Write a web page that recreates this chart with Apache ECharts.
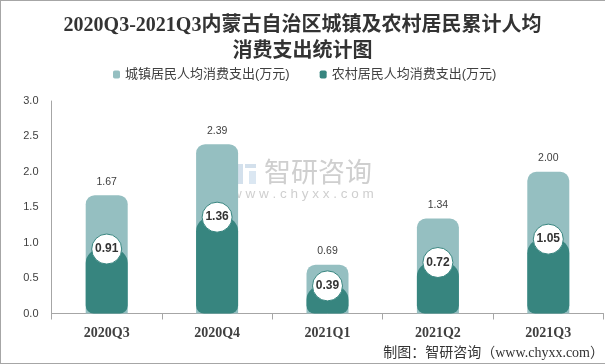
<!DOCTYPE html>
<html>
<head>
<meta charset="utf-8">
<style>
  html, body { margin: 0; padding: 0; background: #fff; }
  #chart { width: 605px; height: 364px; box-sizing: border-box; }
  #frame { position: absolute; left: 0; top: 0; width: 605px; height: 364px; box-sizing: border-box; border: 1px solid #a6a6a6; border-right: 0; pointer-events: none; }
</style>
</head>
<body>
<div id="chart"></div>
<div id="frame"></div>
<script src="https://cdn.jsdelivr.net/npm/echarts@6/dist/echarts.min.js"></script>
<script>
var categories = ["2020Q3", "2020Q4", "2021Q1", "2021Q2", "2021Q3"];
var urbanValues = [1.67, 2.39, 0.69, 1.34, 2.00];
var ruralValues = [0.91, 1.36, 0.39, 0.72, 1.05];
var yTicks = { min: 0, max: 3, interval: 0.5 };

var urbanName = "城镇居民人均消费支出(万元)";
var ruralName = "农村居民人均消费支出(万元)";
var sansFont = "'Liberation Sans','Noto Sans CJK SC',sans-serif";
var serifFont = "'Liberation Serif','Noto Sans CJK SC',serif";

var chart = echarts.init(document.getElementById("chart"));

var option = {
  animation: false,
  title: {
    text: "2020Q3-2021Q3内蒙古自治区城镇及农村居民累计人均\n消费支出统计图",
    left: "center",
    top: 8,
    textStyle: {
      fontFamily: serifFont,
      fontSize: 20,
      fontWeight: "bold",
      color: "#333",
      lineHeight: 26,
    },
  },
  legend: {
    top: 63,
    left: 108,
    itemWidth: 7,
    itemHeight: 8,
    itemGap: 30,
    icon: "roundRect",
    data: [urbanName, ruralName],
    textStyle: { fontFamily: sansFont, fontSize: 13, color: "#404040" },
  },
  grid: { left: 51.5, right: 1.5, top: 101, bottom: 50.5 },
  xAxis: {
    type: "category",
    data: categories,
    axisLine: { lineStyle: { color: "#a6a6a6" } },
    axisTick: { show: true, length: 6, lineStyle: { color: "#a6a6a6" } },
    axisLabel: {
      fontFamily: serifFont,
      fontSize: 14,
      fontWeight: "bold",
      color: "#404040",
      margin: 13,
    },
  },
  yAxis: {
    type: "value",
    min: yTicks.min,
    max: yTicks.max,
    interval: yTicks.interval,
    splitLine: { show: false },
    axisLine: { show: true, lineStyle: { color: "#a6a6a6" } },
    axisTick: { show: false },
    axisLabel: {
      fontFamily: sansFont,
      fontSize: 11,
      color: "#404040",
      margin: 13,
      formatter: function (v) {
        return v.toFixed(1);
      },
    },
  },
  series: [
    {
      name: urbanName,
      type: "bar",
      data: urbanValues,
      barWidth: 42,
      barGap: "-100%",
      itemStyle: { color: "#95bfc1", borderRadius: [9, 9, 0, 0] },
      label: {
        show: true,
        position: "top",
        distance: 8,
        fontFamily: sansFont,
        fontSize: 10.5,
        color: "#404040",
        formatter: function (p) {
          return p.value.toFixed(2);
        },
      },
      z: 2,
    },
    {
      name: ruralName,
      type: "bar",
      data: ruralValues,
      barWidth: 42,
      itemStyle: { color: "#37857f", borderRadius: [14, 14, 8, 8] },
      z: 3,
    },
    {
      // white circles sitting on top of the rural bars
      name: "ruralLabel",
      type: "scatter",
      data: ruralValues,
      symbol: "circle",
      symbolSize: 30,
      itemStyle: { color: "#fff", borderColor: "#37857f", borderWidth: 1, opacity: 1 },
      label: {
        show: true,
        position: "inside",
        fontFamily: sansFont,
        fontSize: 12,
        fontWeight: "bold",
        color: "#333",
        formatter: function (p) {
          return p.value.toFixed(2);
        },
      },
      z: 4,
    },
  ],
  graphic: [
    // watermark
    {
      type: "group",
      left: 232,
      top: 161,
      z: 1,
      children: [
        { type: "rect", shape: { x: 0, y: 3, width: 11, height: 20 }, style: { fill: "#d3e0ec" } },
        { type: "rect", shape: { x: 13, y: 3, width: 11, height: 4 }, style: { fill: "#d3e0ec" } },
        { type: "rect", shape: { x: 17, y: 10, width: 7, height: 13 }, style: { fill: "#dbe7f2" } },
        {
          type: "text",
          x: 32,
          y: 0,
          style: { text: "智研咨询", font: "27px " + sansFont, fill: "#cfcfcf" },
        },
        {
          type: "text",
          x: 0,
          y: 27,
          style: { text: "w w w . c h y x x . c o m", font: "13.5px " + sansFont, fill: "#cfcfcf" },
        },
      ],
    },
    {
      type: "text",
      right: 1,
      top: 346,
      style: { text: "制图：智研咨询（www.chyxx.com）", font: "14px " + serifFont, fill: "#333" },
    },
  ],
};

chart.setOption(option);
</script>
</body>
</html>
